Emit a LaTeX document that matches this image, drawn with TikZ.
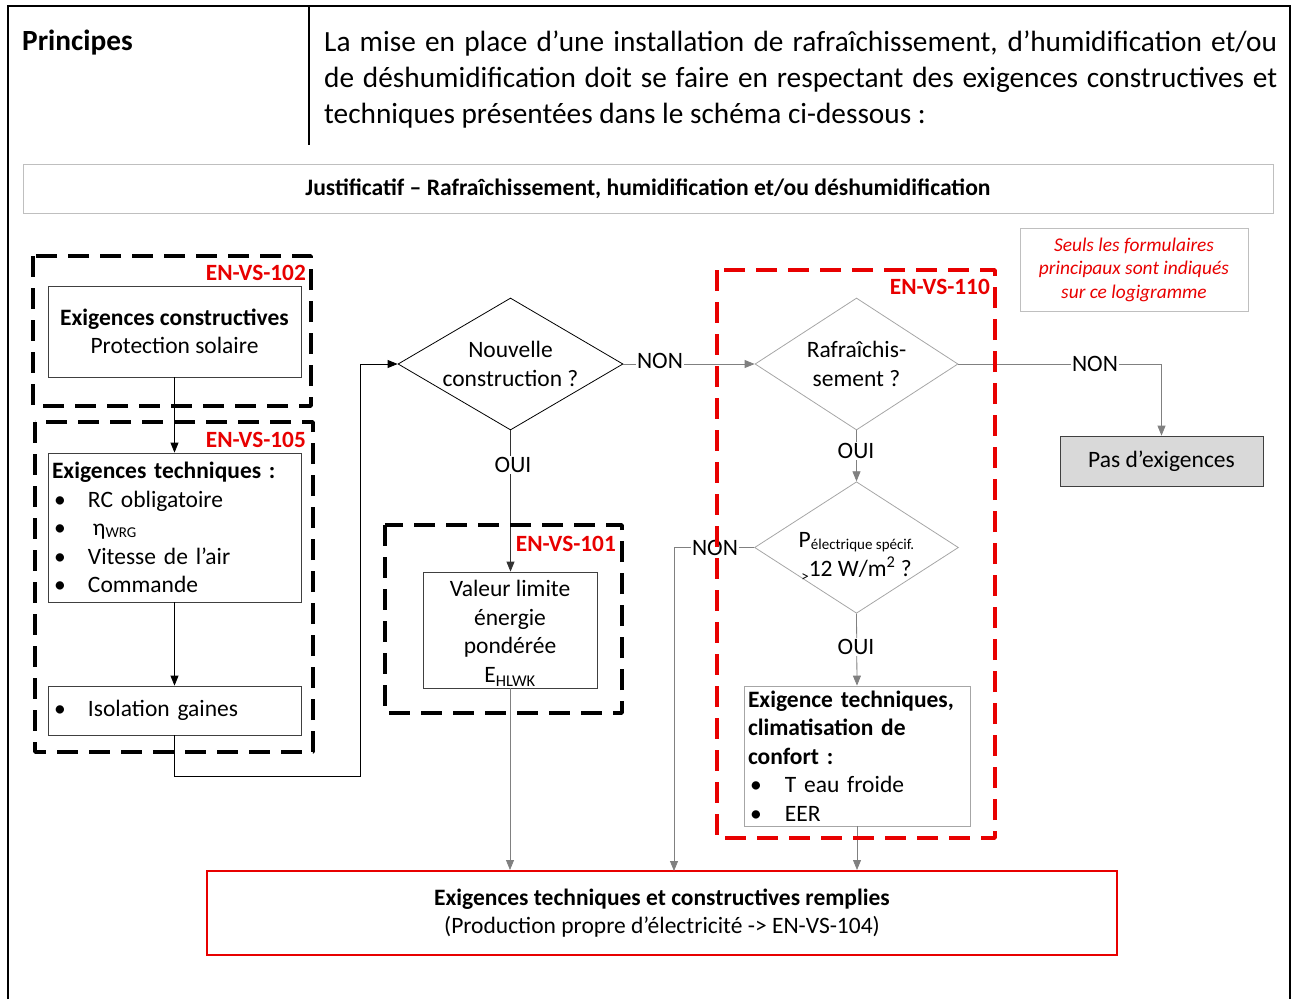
\documentclass[tikz,border=0pt]{standalone}
\usepackage{fontspec}
\setmainfont{Carlito}
\usetikzlibrary{shapes.geometric,arrows.meta}

\definecolor{rouge}{RGB}{232,0,0}
\definecolor{grisTrait}{RGB}{128,128,128}
\definecolor{grisCadre}{RGB}{166,166,166}
\definecolor{grisClair}{RGB}{191,191,191}
\definecolor{grisFond}{RGB}{217,217,217}

\newcommand{\puce}[1][36pt]{\makebox[#1][l]{\hspace{2pt}\textbullet}}
\newcommand{\petit}{\fontsize{15}{15}\selectfont}

\begin{document}
\begin{tikzpicture}[x=1pt,y=-1pt,
  every node/.style={font=\fontsize{23.5}{28.5}\selectfont},
  boite/.style={draw=black!75, line width=0.8pt, inner sep=4pt},
  losange/.style={diamond, aspect=1.7, inner sep=0pt, align=center, line width=0.8pt},
  fleche/.style={-{Triangle[length=10pt,width=8pt]}, line width=0.8pt},
  gfleche/.style={fleche, draw=grisTrait},
  etiq/.style={fill=white, inner sep=1pt},
  cadreEN/.style={line width=3.5pt, dash pattern=on 21pt off 11pt, line join=round},
  refEN/.style={text=rouge, font=\fontsize{23.3}{24}\selectfont\bfseries, inner sep=0pt, anchor=east}]
\useasboundingbox (0,0) rectangle (1293,999);
% cadre du tableau
\draw[line width=2pt] (8,999) -- (8,6) -- (1290,6) -- (1290,999);
\draw[line width=1.5pt] (309,6) -- (309,145);
\node[anchor=base west, inner sep=0pt, font=\fontsize{29.3}{36}\selectfont\bfseries] (princ) at (22,50) {Principes};
\node[anchor=north west, text width=953pt, align=justify, inner sep=0pt, font=\fontsize{29.3}{36}\selectfont] (intro) at (324,31)
  {La mise en place d’une installation de rafraîchissement, d’humidification et/ou\linebreak
   de déshumidification doit se faire en respectant des exigences constructives et\linebreak
   techniques présentées dans le schéma ci-dessous :};

% titre et remarque
\node[draw=grisClair, line width=0.8pt, minimum width=1250pt, minimum height=49pt, font=\fontsize{23.6}{28}\selectfont\bfseries] (titre) at (648,188.5)
  {Justificatif – Rafraîchissement, humidification et/ou déshumidification};
\node[draw=grisClair, line width=0.8pt, minimum width=228pt, minimum height=83pt, align=center, text=rouge, font=\fontsize{19.4}{23.5}\selectfont\itshape] (note) at (1134,269.5)
  {Seuls les formulaires\\principaux sont indiqués\\sur ce logigramme};

% colonne de gauche
\node[boite, minimum width=253pt, minimum height=91pt, align=center] (exCons) at (174.5,331.5)
  {\textbf{Exigences constructives}\\Protection solaire};
\node[boite, text width=245pt, minimum height=149pt, align=left] (exTech) at (174.5,527.5)
  {\textbf{Exigences techniques :}\\
   \puce RC obligatoire\\
   \puce\hspace{5pt}η\raisebox{-2pt}{\petit WRG}\\
   \puce Vitesse de l’air\\
   \puce Commande};
\node[boite, text width=245pt, minimum height=49pt, align=left] (isol) at (174.5,710.5)
  {\puce Isolation gaines};
\coordinate (retour) at (360,776);

% decisions
\node[losange, draw=black, minimum width=225pt, minimum height=132pt] (nouv) at (510.5,364) {Nouvelle\\construction ?};
\node[boite, inner sep=0pt, minimum width=174pt, minimum height=116pt, align=center] (valLim) at (510,630)
  {\raisebox{-4pt}[\height][\depth]{\begin{tabular}{@{}c@{}}Valeur limite\\énergie\\pondérée\\E\textsubscript{HLWK}\end{tabular}}};
\node[losange, aspect=1.55, draw=grisCadre, minimum width=203pt, minimum height=132pt] (rafr) at (856.5,364) {Rafraîchis-\\sement ?};
\node[losange, aspect=1.55, draw=grisCadre, minimum width=203pt, minimum height=131pt] (pElec) at (856.5,547.5)
  {\raisebox{-9pt}[\height][\depth]{\begin{tabular}{@{}c@{}}P\raisebox{-2pt}{\petit électrique spécif.}\\\raisebox{-5pt}{\petit >}12 W/m\textsuperscript{2} ?\end{tabular}}};
\node[boite, draw=grisCadre, text width=218pt, minimum height=140pt, align=left] (exClim) at (857,756)
  {\textbf{Exigence techniques,}\\\textbf{climatisation de}\\\textbf{confort :}\\
   \puce[29pt] T eau froide\\\puce[29pt] EER};
\node[draw=black!75, fill=grisFond, line width=0.8pt, minimum width=203pt, minimum height=50pt] (pasEx) at (1161.5,461) {Pas d’exigences};
\node[draw=rouge, line width=2pt, minimum width=910pt, minimum height=84pt, align=center] (final) at (662,913)
  {\textbf{Exigences techniques et constructives remplies}\\(Production propre d’électricité -> EN-VS-104)};
\coordinate (arrNon) at (674,871);

% liaisons
\draw[fleche] (exCons.south) -- (exTech.north);
\draw[fleche] (exTech.south) -- (isol.north);
\draw[fleche] (isol.south) |- (retour) |- (nouv.west);
\draw[fleche, draw=black!80] (nouv.south) -- (nouv.south |- valLim.north);
\draw[gfleche] (valLim.south) -- (valLim.south |- final.north);
\draw[gfleche] (nouv.east) -- (rafr.west);
\draw[gfleche] (rafr.east) -| (pasEx.north);
\draw[gfleche] (rafr.south) -- (pElec.north);
\draw[gfleche] (pElec.west) -| (arrNon);
\draw[gfleche] (pElec.south) -- (exClim.north);
\draw[gfleche] (exClim.south) -- (exClim.south |- final.north);
\node[etiq] (oui1) at (513,465) {OUI};
\node[etiq] (non1) at (660,361) {NON};
\node[etiq] (non2) at (1095,364) {NON};
\node[etiq] (oui2) at (856,451) {OUI};
\node[etiq] (non3) at (715,548) {NON};
\node[etiq] (oui3) at (856,647) {OUI};

% cadres des formulaires
\draw[cadreEN] (33,256) rectangle (311,406);
\node[refEN] (en102) at (306,273) {EN-VS-102};
\draw[cadreEN] (35,422) rectangle (313,752);
\node[refEN] (en105) at (306,440) {EN-VS-105};
\draw[cadreEN] (385,525) rectangle (622,713);
\node[refEN] (en101) at (616,544) {EN-VS-101};
\draw[cadreEN, draw=rouge] (717,270) rectangle (995,838);
\node[refEN] (en110) at (990,287) {EN-VS-110};
\end{tikzpicture}
\end{document}
